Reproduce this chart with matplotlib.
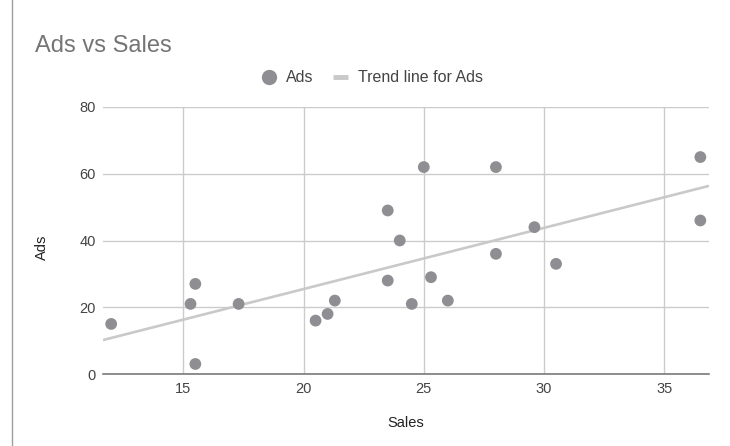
import numpy as np
import matplotlib
matplotlib.use("Agg")
import matplotlib.pyplot as plt
from matplotlib.lines import Line2D

# -----------------------------
# Data
# -----------------------------

sales = [12.0, 15.3, 15.5, 15.5, 17.3, 20.5, 21.0, 21.3, 23.5, 23.5, 24.0,
         24.5, 25.0, 25.3, 26.0, 28.0, 28.0, 29.6, 30.5, 36.5, 36.5]
ads = [15, 21, 27, 3, 21, 16, 18, 22, 49, 28, 40,
       21, 62, 29, 22, 62, 36, 44, 33, 65, 46]

x_ticks = [15, 20, 25, 30, 35]
y_ticks = [0, 20, 40, 60, 80]

plt.rcParams['font.family'] = ['Liberation Sans', 'DejaVu Sans']

# -----------------------------
# Plot
# -----------------------------

fig = plt.figure(figsize=(7.3, 4.46), dpi=100)
ax = fig.add_axes([103 / 730, 1 - 374 / 446, 606 / 730, 267 / 446])

xlim = (11.66, 36.86)

# trend line (least squares fit)
slope, intercept = np.polyfit(sales, ads, 1)
xs = np.array(xlim)
ax.plot(xs, slope * xs + intercept, color='#c9c9c9', lw=1.9, zorder=2,
        solid_capstyle='butt')

ax.scatter(sales, ads, s=72, color='#8f8f93', edgecolors='none', zorder=3)

ax.set_xlim(*xlim)
ax.set_ylim(0, 80)
ax.set_xticks(x_ticks)
ax.set_yticks(y_ticks)
ax.grid(True, color='#cccccc', lw=1)
ax.set_axisbelow(True)

for side in ['top', 'right', 'left']:
    ax.spines[side].set_visible(False)
ax.spines['bottom'].set_color('#6e6e6e')
ax.spines['bottom'].set_linewidth(1.1)
ax.spines['bottom'].set_zorder(4)

ax.tick_params(length=0, labelsize=10.5, labelcolor='#444444')
ax.tick_params(axis='x', pad=6)
ax.tick_params(axis='y', pad=5)

ax.set_xlabel("Sales", fontsize=10.5, color='#222222', va='center')
ax.xaxis.set_label_coords(0.5, (374 - 423) / 267)
ax.set_ylabel("Ads", fontsize=10.5, color='#222222', va='center')
ax.yaxis.set_label_coords((42 - 103) / 606, (374 - 247) / 267)

# title and legend
fig.text(35 / 730, 1 - 52 / 446, "Ads vs Sales", fontsize=17, color='#757575',
         va='baseline', ha='left')

handles = [
    Line2D([], [], marker='o', ls='none', color='#8f8f93', markersize=10),
    Line2D([], [], color='#c9c9c9', lw=3.5, solid_capstyle='butt'),
]
fig.legend(handles, ["Ads", "Trend line for Ads"], loc='center',
           bbox_to_anchor=(372 / 730, 1 - 78 / 446), ncol=2, frameon=False,
           fontsize=11.5, labelcolor='#444444', handlelength=0.95,
           handletextpad=0.6, columnspacing=1.25, borderpad=0)

# left border of the screenshot
fig.add_artist(Line2D([12 / 730, 12 / 730], [0, 1], color='#9e9e9e', lw=1))

plt.savefig("out.png", dpi=100)
